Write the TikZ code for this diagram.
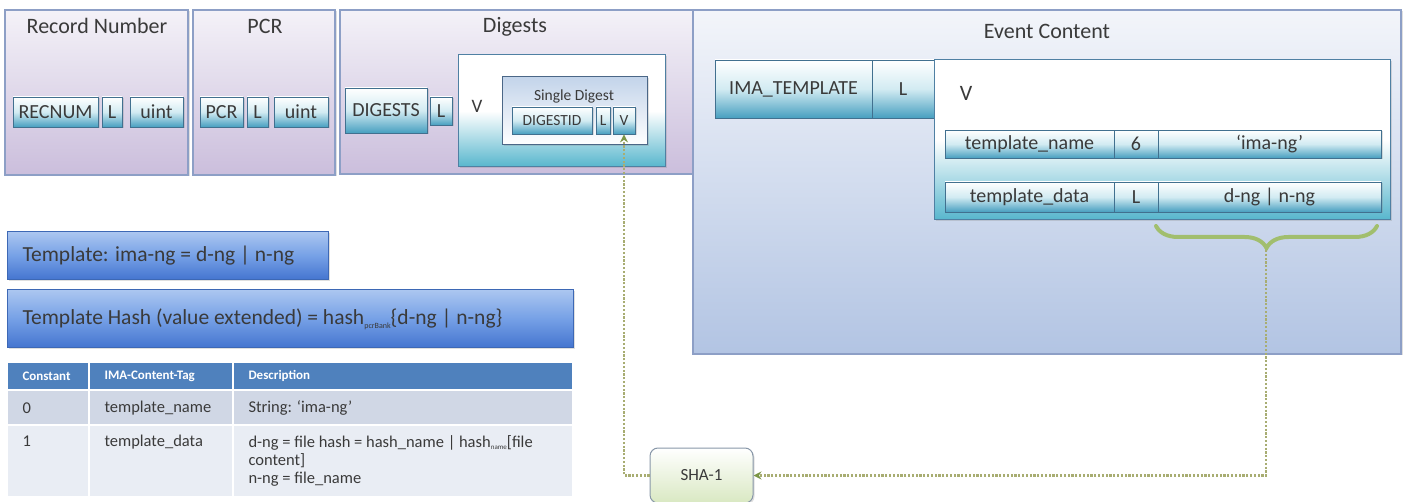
\documentclass[tikz,border=0pt]{standalone}
\usepackage{fontspec}
\setmainfont{Carlito}
\usetikzlibrary{arrows.meta,decorations.pathreplacing,shadows}

\definecolor{txt}{HTML}{3A3A3A}
\definecolor{contBorder}{HTML}{8D9FC6}
\definecolor{contTop}{HTML}{F4F2F8}
\definecolor{contBot}{HTML}{CBBEDC}
\definecolor{evTop}{HTML}{F3F5FA}
\definecolor{evBot}{HTML}{B2C4E3}
\definecolor{cellBorder}{HTML}{41708F}
\definecolor{cellMid}{HTML}{D2EBF2}
\definecolor{cellBot}{HTML}{479FC0}
\definecolor{vBot}{HTML}{57B6CD}
\definecolor{vBorder}{HTML}{4F80A3}
\definecolor{sdTop}{HTML}{C3D4EA}
\definecolor{sdBorder}{HTML}{4B6787}
\definecolor{tplTop}{HTML}{ABC6F0}
\definecolor{tplMid}{HTML}{75A0E6}
\definecolor{tplBot}{HTML}{4474CF}
\definecolor{tplBorder}{HTML}{3D68B5}
\definecolor{thead}{HTML}{4F81BD}
\definecolor{rowA}{HTML}{D0D7E5}
\definecolor{rowB}{HTML}{E9EDF4}
\definecolor{shaBot}{HTML}{D9E8C2}
\definecolor{shaBorder}{HTML}{8897A8}
\definecolor{braceGreen}{HTML}{9BBB59}
\definecolor{dotLine}{HTML}{A8AD72}

% box given by its corners: style, name, x1, y1, x2, y2, text
\newcommand{\rbox}[7]{\node[#1,minimum width={(#5-#3)*1pt},minimum height={(#6-#4)*1pt}] (#2) at ({(#3+#5)/2},{(#4+#6)/2}) {#7};}

\begin{document}
\begin{tikzpicture}[x=1pt,y=-1pt,
  shade/.style={drop shadow={opacity=0.25,shadow xshift=1.5pt,shadow yshift=-1.5pt}},
  container/.style={shade,draw=contBorder,line width=1.2pt,top color=contTop,bottom color=contBot,inner sep=0pt},
  eventbox/.style={shade,draw=contBorder,line width=1.2pt,top color=evTop,bottom color=evBot,inner sep=0pt},
  title/.style={font=\fontsize{22}{22}\selectfont,text=txt},
  cellbox/.style={shade,draw=cellBorder,line width=0.8pt,top color=white,bottom color=cellBot,middle color=cellMid,inner sep=0pt,font=\fontsize{20}{20}\selectfont,text=txt},
  smallcell/.style={cellbox,font=\fontsize{15.5}{15.5}\selectfont},
  vbox/.style={shade,draw=vBorder,line width=1pt,top color=white,bottom color=vBot,middle color=white,inner sep=0pt},
  sdbox/.style={shade,draw=sdBorder,line width=1pt,top color=sdTop,bottom color=white,inner sep=0pt},
  tplbox/.style={shade,draw=tplBorder,line width=1pt,top color=tplTop,bottom color=tplBot,middle color=tplMid,inner sep=0pt},
  tpltext/.style={font=\fontsize{21.5}{21.5}\selectfont,text=txt,anchor=west},
  tabcell/.style={draw=white,line width=1.5pt,inner sep=0pt},
  headtext/.style={font=\fontsize{13}{13}\selectfont\bfseries,text=white,anchor=west},
  tabtext/.style={font=\fontsize{16.5}{18}\selectfont,text=txt,align=left},
  shabox/.style={shade,draw=shaBorder,line width=1pt,rounded corners=8pt,top color=white,bottom color=shaBot,inner sep=0pt,font=\fontsize{17}{17}\selectfont,text=txt},
  dotlink/.style={draw=dotLine,line width=2.4pt,dash pattern=on 2.2pt off 1.6pt,
    -{Stealth[length=8pt,width=8pt,color=braceGreen!80!black]}},
  bracelink/.style={draw=braceGreen,opacity=0.85,line width=4pt,line cap=round,
    decorate,decoration={brace,amplitude=22pt,mirror}}
]
\useasboundingbox (0,0) rectangle (1405,502);

% ---- Record Number ----
\rbox{container}{rec}{5}{10}{188}{175}{}
\node[title] (recT) at (97,26) {Record Number};
\rbox{cellbox}{recnum}{13}{97}{98}{127}{RECNUM}
\rbox{cellbox}{recL}{102}{97}{122}{127}{L}
\rbox{cellbox}{recV}{130}{97}{183}{127}{uint}

% ---- PCR ----
\rbox{container}{pcr}{193}{10}{335}{175}{}
\node[title] (pcrT) at (265,26) {PCR};
\rbox{cellbox}{pcrT2}{200}{97}{243}{127}{PCR}
\rbox{cellbox}{pcrL}{247}{97}{268}{127}{L}
\rbox{cellbox}{pcrV}{274}{97}{328}{127}{uint}

% ---- Digests ----
\rbox{container}{dig}{340}{10}{693}{174}{}
\node[title] (digT) at (515,27) {Digests};
\rbox{cellbox}{digT2}{345}{88}{427}{133}{DIGESTS}
\rbox{cellbox}{digL}{430}{97}{452}{125}{L}
\rbox{vbox}{digV}{458}{55}{665}{167}{}
\node[font=\fontsize{19}{19}\selectfont,text=txt] (digVt) at (477,106) {V};
\rbox{sdbox}{sd}{502}{77}{647}{145}{}
\node[font=\fontsize{15.5}{15.5}\selectfont,text=txt] (sdT) at (574,96) {Single Digest};
\rbox{smallcell}{sdid}{512}{107}{592}{134}{DIGESTID}
\rbox{smallcell}{sdL}{596}{107}{610}{134}{L}
\rbox{smallcell}{sdV}{613}{107}{635}{134}{V}

% ---- Event Content ----
\rbox{eventbox}{ev}{693}{10}{1401}{354}{}
\node[title] (evT) at (1047,31) {Event Content};
\rbox{cellbox}{ima}{715}{60}{872}{118}{IMA\_TEMPLATE}
\rbox{cellbox}{imaL}{872}{60}{934}{118}{L}
\rbox{vbox}{imaV}{934}{60}{1390}{220}{}
\node[font=\fontsize{22}{22}\selectfont,text=txt] (imaVt) at (966,93) {V};
\rbox{cellbox}{tnN}{945}{130}{1114}{158}{template\_name}
\rbox{cellbox}{tnL}{1114}{130}{1158}{158}{6}
\rbox{cellbox}{tnV}{1158}{130}{1381}{158}{`ima-ng'}
\rbox{cellbox}{tdN}{945}{182}{1114}{212}{template\_data}
\rbox{cellbox}{tdL}{1114}{182}{1158}{212}{L}
\rbox{cellbox}{tdV}{1158}{182}{1381}{212}{d-ng | n-ng}

% brace under the value of template_data
\coordinate (brL) at (1156,226);
\coordinate (brR) at (1377,226);
\coordinate (brTip) at (1266,250);
\draw[bracelink] (brL) -- (brR);

% ---- template boxes ----
\rbox{tplbox}{tpl}{7}{232}{328}{280}{}
\node[tpltext] (tplT) at (19,256) {Template: ima-ng = d-ng | n-ng};
\rbox{tplbox}{hash}{7}{290}{573}{348}{}
\node[tpltext] (hashT) at (19,319) {Template Hash (value extended) = hash\raisebox{-0.35ex}{\fontsize{8}{8}\selectfont pcrBank}\{d-ng | n-ng\}};

% ---- table ----
\rbox{tabcell,fill=thead}{h1}{7}{362}{89}{390}{}
\rbox{tabcell,fill=thead}{h2}{89}{362}{233}{390}{}
\rbox{tabcell,fill=thead}{h3}{233}{362}{573}{390}{}
\rbox{tabcell,fill=rowA}{a1}{7}{390}{89}{425}{}
\rbox{tabcell,fill=rowA}{a2}{89}{390}{233}{425}{}
\rbox{tabcell,fill=rowA}{a3}{233}{390}{573}{425}{}
\rbox{tabcell,fill=rowB}{b1}{7}{425}{89}{497}{}
\rbox{tabcell,fill=rowB}{b2}{89}{425}{233}{497}{}
\rbox{tabcell,fill=rowB}{b3}{233}{425}{573}{497}{}

\node[headtext] (h1t) at (19,376) {Constant};
\node[headtext] (h2t) at (101,376) {IMA-Content-Tag};
\node[headtext] (h3t) at (245,376) {Description};
\node[tabtext,anchor=west] (a1t) at (19,408) {0};
\node[tabtext,anchor=west] (a2t) at (101,408) {template\_name};
\node[tabtext,anchor=west] (a3t) at (245,408) {String: `ima-ng'};
\node[tabtext,anchor=north west] (b1t) at (19,432) {1};
\node[tabtext,anchor=north west] (b2t) at (101,432) {template\_data};
\node[tabtext,anchor=north west] (b3t) at (245,432) {d-ng = file hash = hash\_name | hash\raisebox{-0.3ex}{\fontsize{7}{7}\selectfont name}[file\\content]\\n-ng = file\_name};

% ---- SHA-1 and the links through it ----
\rbox{shabox}{sha}{650}{448}{753}{503}{SHA-1}
\draw[dotlink] (brTip) |- (sha.east);
\draw[dotlink] (sha.west) -| (sdV.south);

\end{tikzpicture}
\end{document}
